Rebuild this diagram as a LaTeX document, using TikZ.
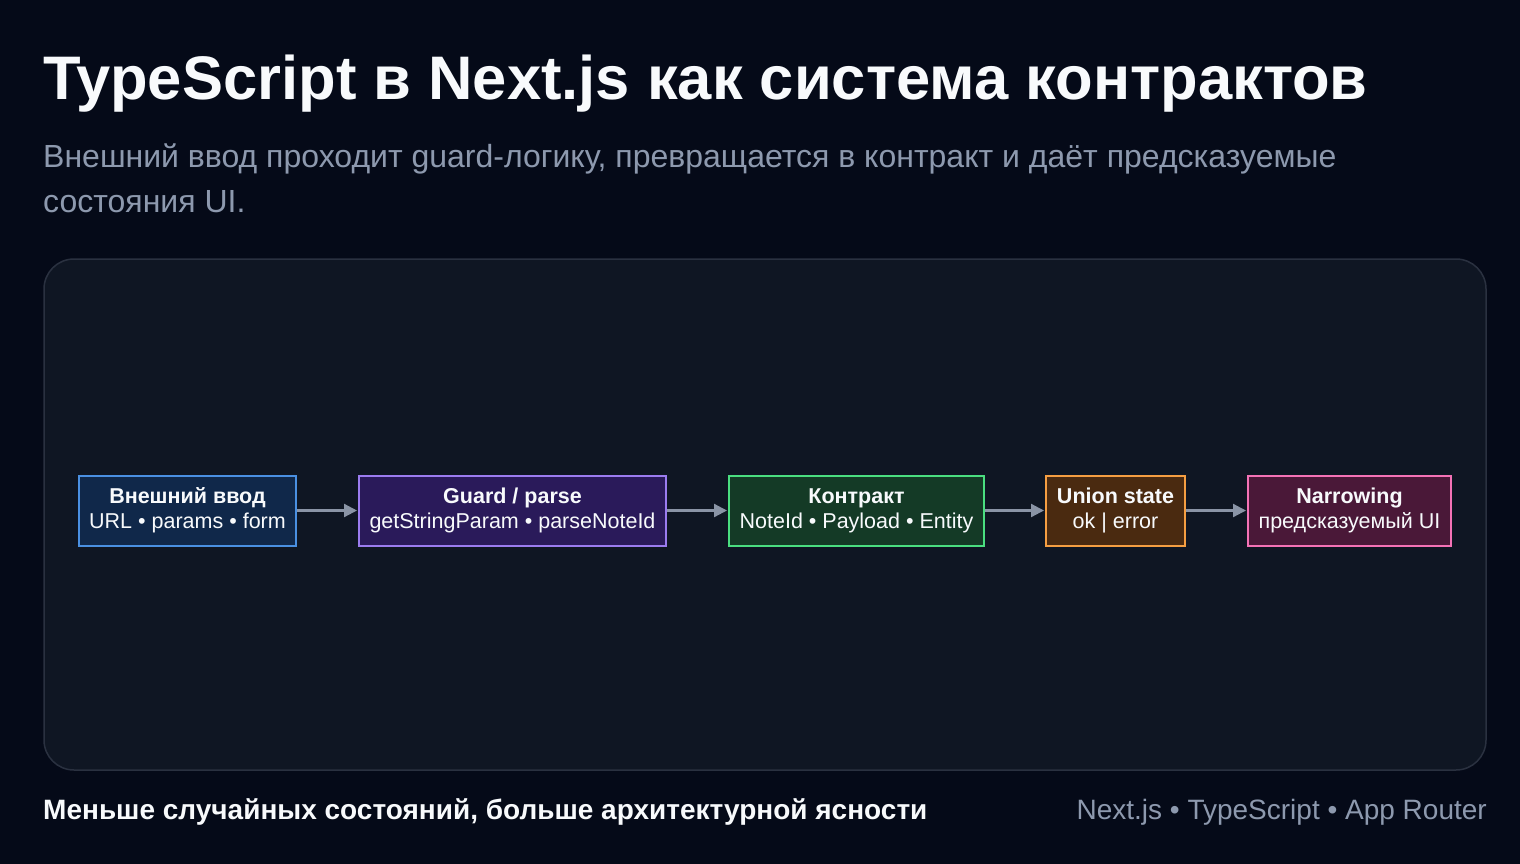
\documentclass[tikz,border=0pt]{standalone}
\usepackage{fontspec}
\setmainfont{Liberation Sans}
\usetikzlibrary{arrows.meta}
\definecolor{bg}{HTML}{050A18}
\definecolor{panel}{HTML}{0F1623}
\definecolor{panelline}{HTML}{2A3140}
\definecolor{titlec}{HTML}{F8FAFC}
\definecolor{subc}{HTML}{8D99AE}
\definecolor{arrowc}{HTML}{8A94A6}
\definecolor{bluel}{HTML}{4A90E2}\definecolor{bluef}{HTML}{10284A}
\definecolor{purl}{HTML}{9B7CF0}\definecolor{purf}{HTML}{2A1A5A}
\definecolor{grel}{HTML}{4ADE80}\definecolor{gref}{HTML}{143A26}
\definecolor{orgl}{HTML}{F59E42}\definecolor{orgf}{HTML}{4A2A10}
\definecolor{pinl}{HTML}{F472B6}\definecolor{pinf}{HTML}{4A1838}
\tikzset{
  flowbox/.style={draw=#1l, line width=2pt, inner sep=0pt, minimum height=70pt, text=titlec, align=center, font=\fontsize{21.5}{25}\selectfont},
  conn/.style={draw=arrowc, line width=2.2pt, -{Triangle[length=13pt,width=13pt]}, shorten >=1pt}
}
\begin{document}
\begin{tikzpicture}[x=1pt,y=-1pt]
\useasboundingbox (0,0) rectangle (1520,864);
\fill[bg] (0,0) rectangle (1520,864);
\filldraw[fill=panel, draw=panelline, line width=1.5pt, rounded corners=30pt] (44,259) rectangle (1486,770);
\node[anchor=base west, inner sep=0pt, text=titlec, font=\fontsize{61.5}{70}\selectfont\bfseries] (title) at (43,100) {TypeScript в Next.js как система контрактов};
\node[anchor=base west, inner sep=0pt, text=subc, font=\fontsize{32}{46}\selectfont] (sub) at (43,167) {\parbox[t]{1400pt}{\raggedright Внешний ввод проходит guard-логику, превращается в контракт и даёт предсказуемые\\состояния UI.}};
\node[flowbox=blue, fill=bluef, minimum width=217pt] (b1) at (187.5,510.5) {\textbf{Внешний ввод}\\URL • params • form};
\node[flowbox=pur, fill=purf, minimum width=307pt] (b2) at (512.5,510.5) {\textbf{Guard / parse}\\getStringParam • parseNoteId};
\node[flowbox=gre, fill=gref, minimum width=255pt] (b3) at (856.5,510.5) {\textbf{Контракт}\\NoteId • Payload • Entity};
\node[flowbox=org, fill=orgf, minimum width=139pt] (b4) at (1115.5,510.5) {\textbf{Union state}\\ok | error};
\node[flowbox=pin, fill=pinf, minimum width=203pt] (b5) at (1349.5,510.5) {\textbf{Narrowing}\\предсказуемый UI};
\draw[conn] (b1) -- (b2);
\draw[conn] (b2) -- (b3);
\draw[conn] (b3) -- (b4);
\draw[conn] (b4) -- (b5);
\node[anchor=base west, inner sep=0pt, text=titlec, font=\fontsize{28}{32}\selectfont\bfseries] (foot) at (43,819) {Меньше случайных состояний, больше архитектурной ясности};
\node[anchor=base east, inner sep=0pt, text=subc, font=\fontsize{28}{32}\selectfont] (tags) at (1487,819) {Next.js • TypeScript • App Router};
\end{tikzpicture}
\end{document}
